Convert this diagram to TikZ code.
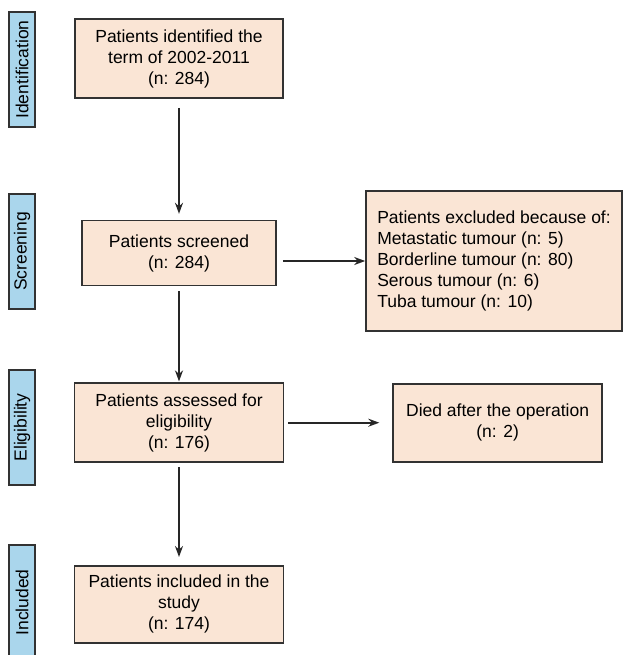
\documentclass[tikz,border=0pt]{standalone}
\usepackage{fontspec}
\setmainfont{Liberation Sans}
\usepackage{xcolor}
\usepackage{tikz}
\usetikzlibrary{arrows.meta,positioning}
\definecolor{boxfill}{RGB}{250,229,213}
\definecolor{stagefill}{RGB}{170,214,236}
\definecolor{edgegray}{RGB}{50,50,50}

\begin{document}
\begin{tikzpicture}[
  x=1pt,y=1pt,
  font=\fontsize{17.5}{21}\selectfont,
  box/.style={draw=edgegray,line width=1.6pt,fill=boxfill,align=center,inner sep=0pt},
  stage/.style={draw=edgegray,line width=1.6pt,fill=stagefill,rotate=90,
    minimum width=115pt,minimum height=26pt,inner sep=0pt},
  arr/.style={draw=black!85,line width=1.8pt,-{Stealth[length=11pt,width=8pt]}}
]
\useasboundingbox (0,0) rectangle (624,-655);
% main column
\node[box,minimum width=208pt,minimum height=79pt] (ident) at (179,-58.5)
  {Patients identified the\\term of 2002-2011\\(n: 284)};
\node[box,minimum width=194pt,minimum height=65pt,below=121pt of ident] (screen)
  {Patients screened\\(n: 284)};
\node[box,minimum width=209pt,minimum height=79pt,below=96pt of screen] (elig)
  {Patients assessed for\\eligibility\\(n: 176)};
\node[box,minimum width=209pt,minimum height=77pt,below=102pt of elig] (incl)
  {Patients included in the\\study\\(n: 174)};
% side boxes
\node[box,align=left,minimum width=256pt,minimum height=140pt] (excl) at (494,-261)
  {Patients excluded because of:\\Metastatic tumour (n: 5)\\Borderline tumour (n: 80)\\Serous tumour (n: 6)\\Tuba tumour (n: 10)};
\node[box,minimum width=209pt,minimum height=78pt,right=108pt of elig] (died)
  {Died after the operation\\(n: 2)};
% stage labels
\node[stage] (sident) at (22,-69.5) {Identification};
\node[stage] (sscreen) at (22,-251.5) {Screening};
\node[stage] (selig) at (22,-427.5) {Eligibility};
\node[stage] (sincl) at (22,-602.5) {Included};
% arrows
\draw[arr,shorten <=9pt,shorten >=6pt] (ident) -- (screen);
\draw[arr,shorten <=5pt,shorten >=1pt] (screen) -- (elig);
\draw[arr,shorten <=4pt,shorten >=8pt] (elig) -- (incl);
\draw[arr,shorten <=6pt] (screen.east |- excl.west) -- (excl.west);
\draw[arr,shorten <=4pt,shorten >=13pt] (elig) -- (died);
\end{tikzpicture}
\end{document}
